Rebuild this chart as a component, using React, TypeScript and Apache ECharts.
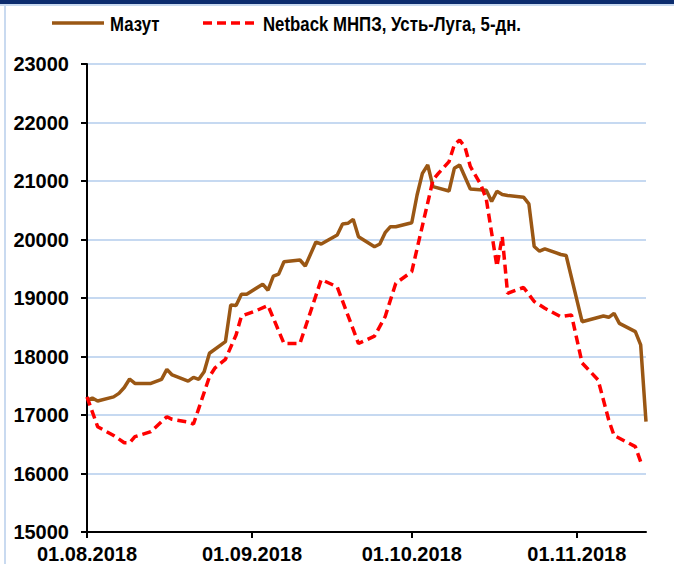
import React, { useEffect, useRef } from "react";
import * as echarts from "echarts";

const seriesNames = ["Мазут", "Netback МНПЗ, Усть-Луга, 5-дн."];

const mazutDates = [
  "2018-08-01", "2018-08-02", "2018-08-03", "2018-08-06", "2018-08-07", "2018-08-08", "2018-08-09", "2018-08-10",
  "2018-08-13", "2018-08-15", "2018-08-16", "2018-08-17", "2018-08-20", "2018-08-21", "2018-08-22", "2018-08-23",
  "2018-08-24", "2018-08-27", "2018-08-28", "2018-08-29", "2018-08-30", "2018-08-31", "2018-09-03", "2018-09-04",
  "2018-09-05", "2018-09-06", "2018-09-07", "2018-09-10", "2018-09-11", "2018-09-13", "2018-09-14", "2018-09-17",
  "2018-09-18", "2018-09-19", "2018-09-20", "2018-09-21", "2018-09-24", "2018-09-25", "2018-09-26", "2018-09-27",
  "2018-09-28", "2018-10-01", "2018-10-02", "2018-10-03", "2018-10-04", "2018-10-05", "2018-10-08", "2018-10-09",
  "2018-10-10", "2018-10-12", "2018-10-15", "2018-10-16", "2018-10-17", "2018-10-18", "2018-10-19", "2018-10-22",
  "2018-10-23", "2018-10-24", "2018-10-25", "2018-10-26", "2018-10-29", "2018-10-30", "2018-11-02", "2018-11-06",
  "2018-11-07", "2018-11-08", "2018-11-09", "2018-11-12", "2018-11-13", "2018-11-14",
];
const mazutValues = [
  17250, 17290, 17240, 17310, 17370, 17470, 17615, 17540,
  17540, 17610, 17780, 17684, 17580, 17644, 17610, 17740,
  18055, 18254, 18880, 18870, 19065, 19065, 19236, 19133,
  19373, 19408, 19620, 19650, 19547, 19957, 19923, 20077,
  20265, 20276, 20345, 20048, 19877, 19923, 20116, 20219,
  20219, 20287, 20761, 21130, 21274, 20903, 20829, 21217,
  21274, 20863, 20840, 20650, 20825, 20770, 20752, 20724,
  20609, 19880, 19800, 19840, 19744, 19726, 18595, 18692,
  18670, 18738, 18567, 18425, 18197, 16885,
];

const netbackDates = [
  "2018-08-01", "2018-08-03", "2018-08-06", "2018-08-08", "2018-08-09", "2018-08-10", "2018-08-13", "2018-08-16",
  "2018-08-17", "2018-08-20", "2018-08-21", "2018-08-22", "2018-08-24", "2018-08-25", "2018-08-27", "2018-08-29",
  "2018-08-30", "2018-09-02", "2018-09-04", "2018-09-07", "2018-09-10", "2018-09-14", "2018-09-17", "2018-09-21",
  "2018-09-24", "2018-09-26", "2018-09-28", "2018-10-01", "2018-10-05", "2018-10-06", "2018-10-08", "2018-10-09",
  "2018-10-10", "2018-10-11", "2018-10-12", "2018-10-14", "2018-10-15", "2018-10-17", "2018-10-18", "2018-10-19",
  "2018-10-22", "2018-10-24", "2018-10-26", "2018-10-29", "2018-10-31", "2018-11-02", "2018-11-05", "2018-11-07",
  "2018-11-08", "2018-11-12", "2018-11-13",
];
const netbackValues = [
  17310, 16800, 16650, 16526, 16526, 16630, 16715, 16971,
  16926, 16880, 16846, 17114, 17655, 17800, 17952, 18368,
  18689, 18792, 18872, 18222, 18222, 19316, 19190, 18222,
  18347, 18680, 19251, 19450, 21020, 21130, 21330, 21620,
  21700, 21580, 21248, 20932, 20690, 19540, 20050, 19080,
  19180, 18940, 18824, 18680, 18710, 17890, 17600, 16915,
  16650, 16459, 16202,
];

const xTickDates = ["2018-08-01", "2018-09-01", "2018-10-01", "2018-11-01"];
const xMin = "2018-08-01";
const xMax = "2018-11-14";
const yMin = 15000;
const yMax = 23000;
const yStep = 1000;

const toTs = (s: string) => {
  const [y, m, d] = s.split("-").map(Number);
  return Date.UTC(y, m - 1, d);
};
const pad = (n: number) => (n < 10 ? "0" + n : "" + n);
const fmtDate = (v: number) => {
  const d = new Date(v);
  return pad(d.getUTCDate()) + "." + pad(d.getUTCMonth() + 1) + "." + d.getUTCFullYear();
};

const FONT = "'Liberation Sans', Arial, sans-serif";
const BROWN = "#9A5714";
const RED = "#FF0000";
const DASH = [9, 5];

export default function App() {
  const ref = useRef<HTMLDivElement>(null);
  useEffect(() => {
    if (!ref.current) return;
    const chart = echarts.init(ref.current, undefined, { renderer: "svg" });
    const ticks = xTickDates.map(toTs);
    const legendFont = "bold 20px 'Liberation Sans', Arial, sans-serif";
    chart.setOption({
      animation: false,
      backgroundColor: "#ffffff",
      textStyle: { fontFamily: FONT },
      graphic: [
        { type: "rect", left: 0, top: 0, shape: { width: 674, height: 4 }, style: { fill: "#0C2C6E" }, silent: true },
        { type: "rect", left: 0, top: 4, shape: { width: 674, height: 2 }, style: { fill: "#C9DAF0" }, silent: true },
        { type: "rect", left: 4, top: 4, shape: { width: 2, height: 560 }, style: { fill: "#C9DAF0" }, silent: true },
        {
          type: "line",
          shape: { x1: 52, y1: 23, x2: 104, y2: 23 },
          style: { stroke: BROWN, lineWidth: 3.5 },
          silent: true,
        },
        {
          type: "text",
          x: 110,
          y: 24,
          scaleX: 0.84,
          style: { text: seriesNames[0], font: legendFont, fill: "#000", textVerticalAlign: "middle" },
          silent: true,
        },
        {
          type: "line",
          shape: { x1: 203, y1: 23, x2: 258, y2: 23 },
          style: { stroke: RED, lineWidth: 3.5, lineDash: DASH },
          silent: true,
        },
        {
          type: "text",
          x: 263,
          y: 24,
          scaleX: 0.84,
          style: { text: seriesNames[1], font: legendFont, fill: "#000", textVerticalAlign: "middle" },
          silent: true,
        },
      ],
      grid: { left: 87, right: 28, top: 64, bottom: 32, containLabel: false },
      xAxis: {
        type: "value",
        min: toTs(xMin),
        max: toTs(xMax),
        axisLine: { show: true, lineStyle: { color: "#000", width: 2 } },
        axisTick: { show: true, length: 6, lineStyle: { color: "#000", width: 2 }, customValues: ticks },
        axisLabel: {
          customValues: ticks,
          formatter: (v: number) => fmtDate(v),
          fontSize: 20,
          fontWeight: "bold",
          color: "#000",
          margin: 12,
          fontFamily: FONT,
          showMinLabel: true,
          showMaxLabel: true,
        },
        splitLine: { show: false },
      },
      yAxis: {
        type: "value",
        min: yMin,
        max: yMax,
        interval: yStep,
        axisLine: { show: true, lineStyle: { color: "#000", width: 2 } },
        axisTick: { show: true, length: 6, lineStyle: { color: "#000", width: 2 } },
        axisLabel: {
          fontSize: 20,
          fontWeight: "bold",
          color: "#000",
          margin: 18,
          fontFamily: FONT,
          formatter: (v: number) => String(v),
        },
        splitLine: { show: true, lineStyle: { color: "#C6D9F1", width: 2 } },
      },
      series: [
        {
          name: seriesNames[0],
          type: "line",
          symbol: "none",
          showSymbol: false,
          data: mazutDates.map((d, i) => [toTs(d), mazutValues[i]]),
          lineStyle: { color: BROWN, width: 3.5 },
          itemStyle: { color: BROWN },
          z: 3,
        },
        {
          name: seriesNames[1],
          type: "line",
          symbol: "none",
          showSymbol: false,
          data: netbackDates.map((d, i) => [toTs(d), netbackValues[i]]),
          lineStyle: { color: RED, width: 3.5, type: DASH },
          itemStyle: { color: RED },
          z: 4,
        },
      ],
    });
    return () => chart.dispose();
  }, []);
  return (
    <div
      ref={ref}
      style={{ position: "fixed", left: 0, top: 0, width: 674, height: 564 }}
    />
  );
}
